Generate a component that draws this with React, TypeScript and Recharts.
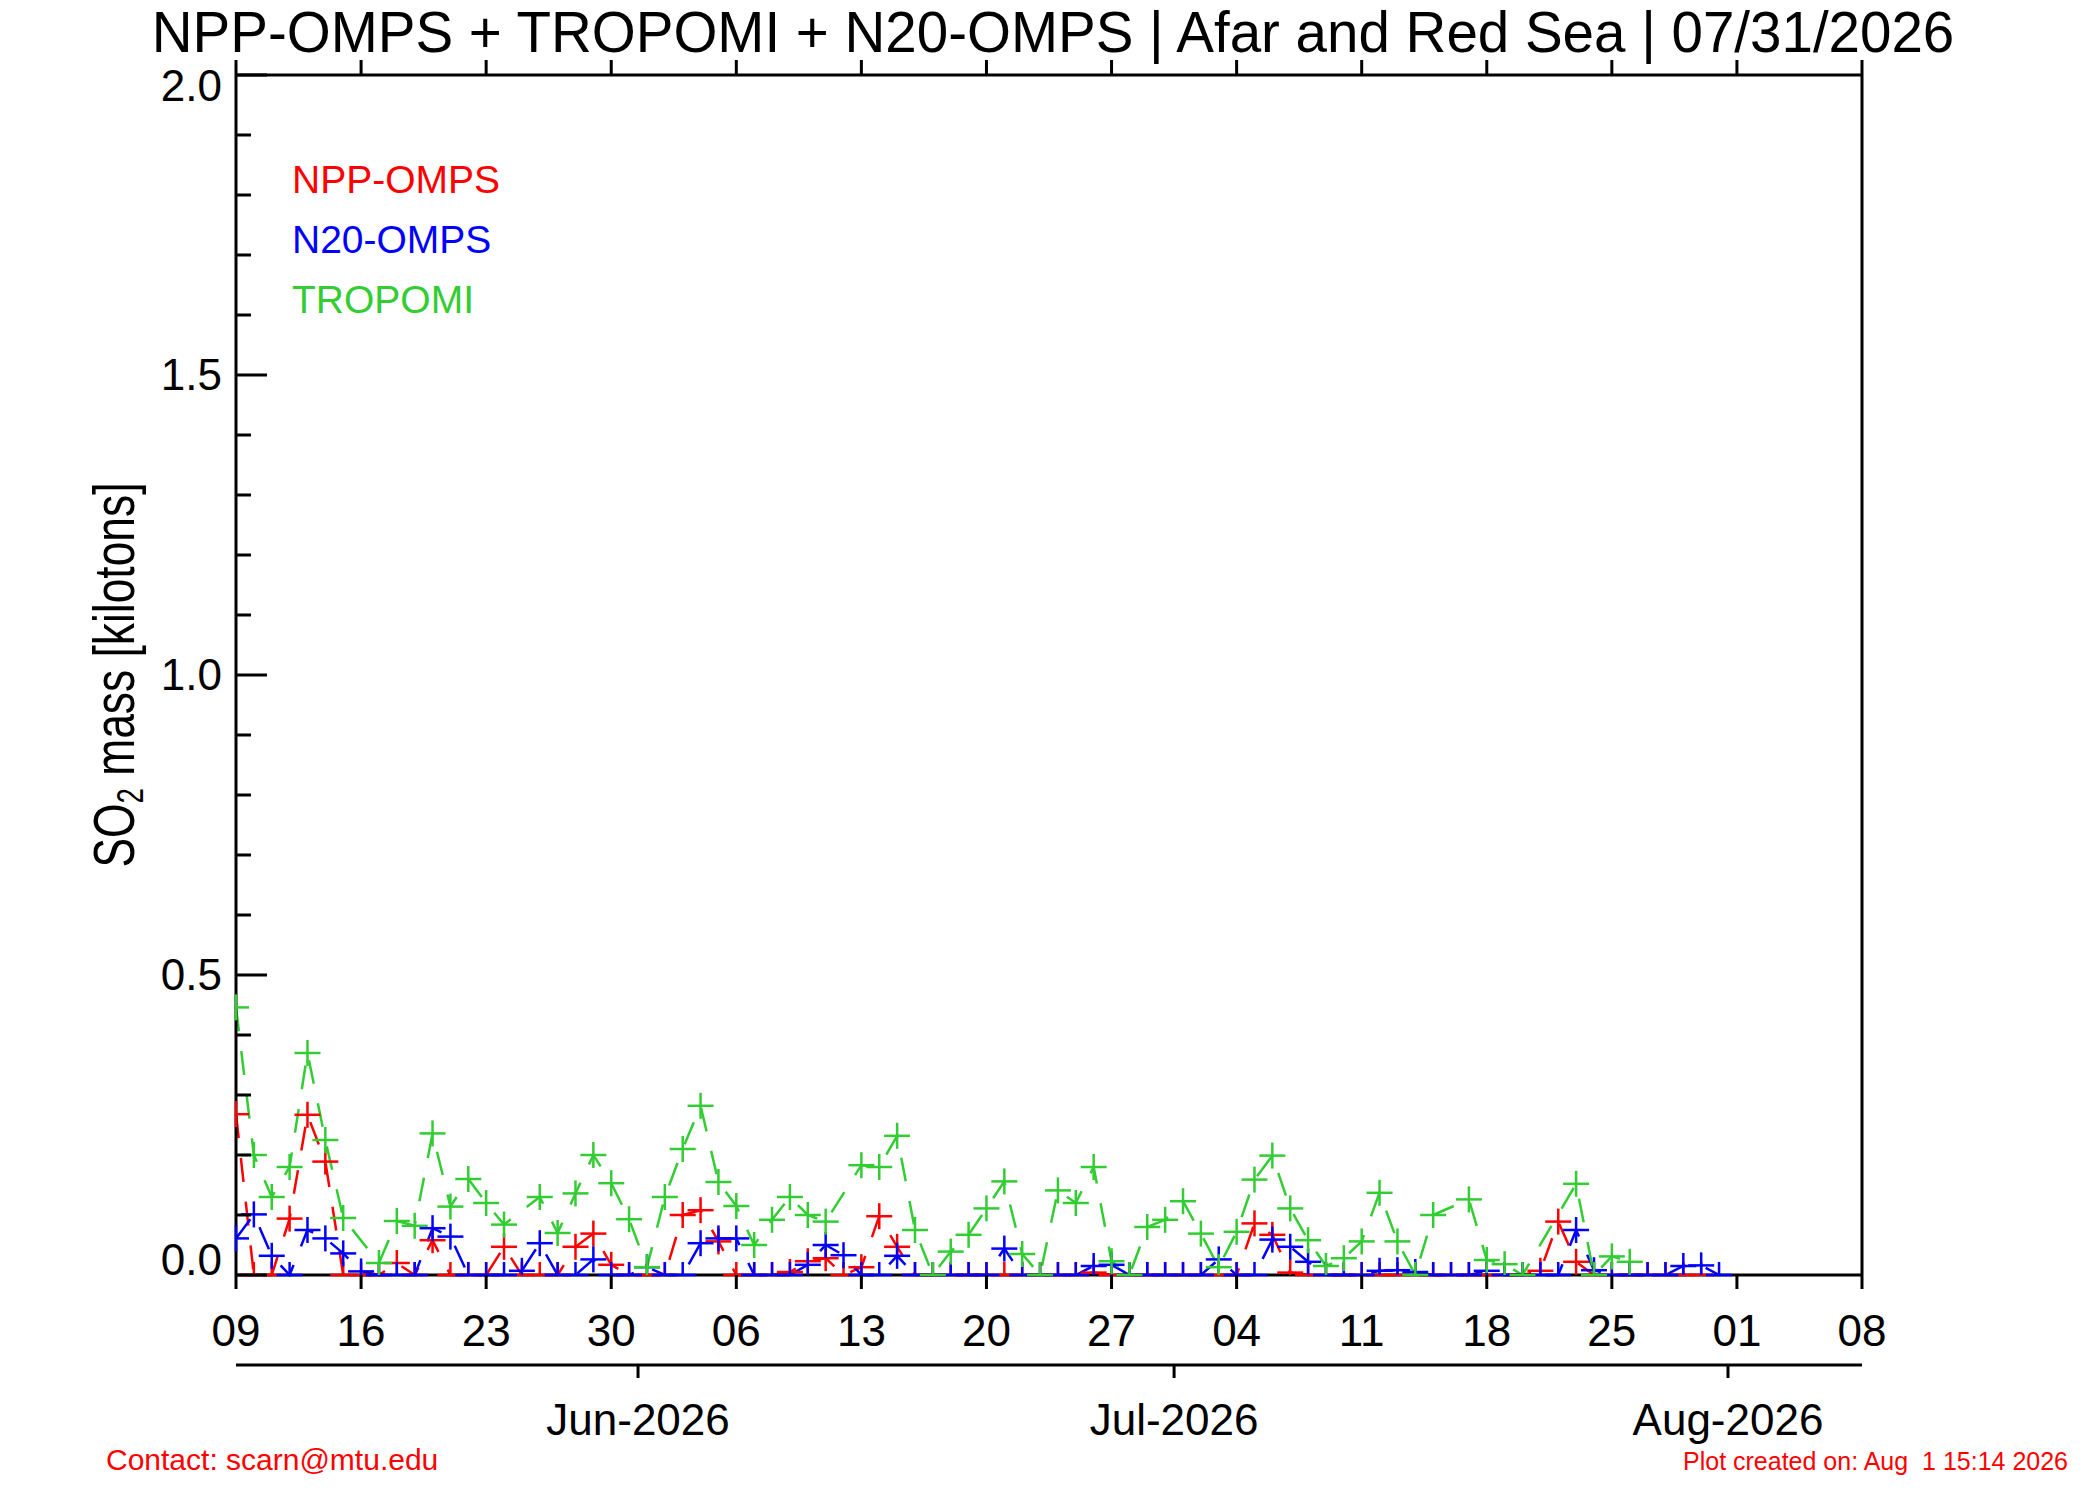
import React from 'react';
import { LineChart, Line, XAxis, YAxis, Legend } from 'recharts';

// days counted from 09 May 2026 (day 0); null = no retrieval that day
const nppOmps = [
  0.268, 0, 0, 0.094, 0.267, 0.189, 0, 0, 0, 0.02, 0, 0.058, 0, 0, 0,
  0.047, 0, 0, 0, 0.047, 0.069, 0.017, 0, 0, 0, 0.1, 0.108, 0.056, 0, 0,
  0, 0.005, 0.023, 0.028, 0, 0.013, 0.098, 0.047, 0, 0, 0, 0, 0, 0, 0,
  0, 0, 0, 0.004, 0, 0, 0, 0, 0, 0, 0, 0, 0.086, 0.067, 0.004, 0, 0,
  0, 0, 0, 0, 0, 0, 0, 0, 0, 0, 0, 0.007, 0.089, 0.022, 0, 0, 0,
  0, 0, 0, 0,
];
const n20Omps = [
  0.061, 0.101, 0.032, 0, 0.075, 0.061, 0.036, 0.006, 0, 0, 0, 0.078, 0.064, 0, 0,
  0, 0.007, 0.053, 0, 0, 0.026, 0, 0, 0.013, 0, 0, 0.053, 0.061, 0.061, 0,
  0, 0, 0.017, 0.05, 0.033, 0, 0, 0.032, 0, 0, 0, 0, 0, 0.044, 0,
  0, 0, 0, 0.015, 0.017, 0, 0, 0, 0, 0, 0.026, 0, 0, 0.059, 0.047, 0.022,
  0, 0, 0, 0.007, 0.008, 0.005, 0, 0, 0, 0.007, 0, 0, 0, 0, 0.075,
  0.008, 0, 0, 0, 0, 0.015, 0.016, 0,
];
const tropomi = [
  0.446, 0.2, 0.13, 0.18, 0.37, 0.225, 0.095, null, 0.02, 0.09, 0.082, 0.236, 0.114, 0.16, 0.12,
  0.084, null, 0.13, 0.07, 0.136, 0.2, 0.153, 0.093, 0.013, 0.13, 0.21, 0.282, 0.155, 0.115, 0.05,
  0.092, 0.13, 0.1, 0.089, null, 0.183, 0.18, 0.232, 0.075, 0, 0.039, 0.067, 0.111, 0.156, 0.035,
  0, 0.141, 0.12, 0.18, 0.023, 0, 0.08, 0.092, 0.123, 0.069, 0.013, 0.072, 0.159, 0.199, 0.111,
  0.058, 0.015, 0.028, 0.056, 0.137, 0.056, 0, 0.1, null, 0.126, 0.025, 0.018, 0, null, null,
  0.152, 0, 0.031, 0.022,
];

const xTicks = [0, 7, 14, 21, 28, 35, 42, 49, 56, 63, 70, 77, 84, 91];
const xTickLabels = ['09', '16', '23', '30', '06', '13', '20', '27', '04', '11', '18', '25', '01', '08'];
const monthTicks = [22.5, 52.5, 83.5];
const monthLabels = ['Jun-2026', 'Jul-2026', 'Aug-2026'];
const yTicks = [0, 0.1, 0.2, 0.3, 0.4, 0.5, 0.6, 0.7, 0.8, 0.9, 1, 1.1, 1.2, 1.3, 1.4, 1.5, 1.6, 1.7, 1.8, 1.9, 2];
const yMajor = [0, 0.5, 1, 1.5, 2];
const yMajorLabels = ['0.0', '0.5', '1.0', '1.5', '2.0'];
const legendOrder = ['NPP-OMPS', 'N20-OMPS', 'TROPOMI'];

const nDays = Math.max(nppOmps.length, n20Omps.length, tropomi.length);
const data = Array.from({ length: nDays }, (_, i) => ({
  day: i,
  npp: nppOmps[i] ?? null,
  n20: n20Omps[i] ?? null,
  tropomi: tropomi[i] ?? null,
}));

const FONT = '"Liberation Sans", Arial, Helvetica, sans-serif';
const PLOT_LEFT = 236;
const PLOT_BOTTOM = 1275;

const DateTick = (props: any) => {
  const { x, y, payload } = props;
  const i = xTicks.indexOf(payload.value);
  return (
    <g>
      <line x1={x} y1={y} x2={x} y2={y + 14} stroke="#000" strokeWidth={3} />
      <text x={x} y={y + 71} textAnchor="middle" fontSize={44} fontFamily={FONT} fill="#000">
        {xTickLabels[i]}
      </text>
    </g>
  );
};

const TopTick = (props: any) => {
  const { x, y } = props;
  return <line x1={x} y1={y} x2={x} y2={y - 15} stroke="#000" strokeWidth={3} />;
};

const MonthTick = (props: any) => {
  const { x, y, payload } = props;
  const i = monthTicks.indexOf(payload.value);
  return (
    <g>
      <line x1={x} y1={y} x2={x} y2={y + 13} stroke="#000" strokeWidth={3} />
      <text x={x} y={y + 70} textAnchor="middle" fontSize={44} fontFamily={FONT} fill="#000">
        {monthLabels[i]}
      </text>
    </g>
  );
};

const LeftTick = (props: any) => {
  const { x, y, payload } = props;
  const mi = yMajor.findIndex((v) => Math.abs(v - payload.value) < 1e-6);
  const len = mi >= 0 ? 31 : 15;
  const dy = mi === 0 ? 0 : mi === 4 ? 26 : 15;
  return (
    <g>
      <line x1={x} y1={y} x2={x + len} y2={y} stroke="#000" strokeWidth={3} />
      {mi >= 0 && (
        <text x={x - 14} y={y + dy} textAnchor="end" fontSize={44} fontFamily={FONT} fill="#000">
          {yMajorLabels[mi]}
        </text>
      )}
    </g>
  );
};

const RightTick = (props: any) => {
  const { x, y, payload } = props;
  const major = yMajor.some((v) => Math.abs(v - payload.value) < 1e-6);
  return <line x1={x} y1={y} x2={x - (major ? 31 : 15)} y2={y} stroke="#000" strokeWidth={3} />;
};

// IDL-style "+" symbol, cut at the plot frame
const renderPlus = (props: any) => {
  const { cx, cy, stroke, index } = props;
  if (cx == null || cy == null || Number.isNaN(cy)) return <g key={`dot-${index}`} />;
  const h = 13;
  return (
    <g key={`dot-${index}`}>
      <line x1={Math.max(cx - h, PLOT_LEFT)} y1={cy} x2={cx + h} y2={cy} stroke={stroke} strokeWidth={2.5} />
      <line x1={cx} y1={cy - h} x2={cx} y2={Math.min(cy + h, PLOT_BOTTOM)} stroke={stroke} strokeWidth={2.5} />
    </g>
  );
};

const LegendContent = ({ payload }: any) => {
  const items = [...(payload || [])].sort(
    (a: any, b: any) => legendOrder.indexOf(a.value) - legendOrder.indexOf(b.value)
  );
  return (
    <div style={{ fontFamily: FONT, fontSize: 39, lineHeight: '60px' }}>
      {items.map((entry: any) => (
        <div key={entry.value} style={{ color: entry.color }}>
          {entry.value}
        </div>
      ))}
    </div>
  );
};

export default function App() {
  return (
    <div style={{ position: 'absolute', left: 0, top: 0, width: 2100, height: 1500, background: '#fff', fontFamily: FONT }}>
      <LineChart width={2100} height={1500} data={data} margin={{ top: 45, right: 198, bottom: 35, left: 136 }}>
        <XAxis
          xAxisId="date"
          dataKey="day"
          type="number"
          domain={[0, 91]}
          ticks={xTicks}
          interval={0}
          height={90}
          tickSize={0}
          tickMargin={0}
          tickLine={false}
          tick={<DateTick />}
          axisLine={{ stroke: '#000', strokeWidth: 3 }}
        />
        <XAxis
          xAxisId="month"
          dataKey="day"
          type="number"
          domain={[0, 91]}
          ticks={monthTicks}
          interval={0}
          height={100}
          tickSize={0}
          tickMargin={0}
          tickLine={false}
          tick={<MonthTick />}
          axisLine={{ stroke: '#000', strokeWidth: 3 }}
        />
        <XAxis
          xAxisId="top"
          orientation="top"
          dataKey="day"
          type="number"
          domain={[0, 91]}
          ticks={xTicks}
          interval={0}
          height={30}
          tickSize={0}
          tickMargin={0}
          tickLine={false}
          tick={<TopTick />}
          axisLine={{ stroke: '#000', strokeWidth: 3 }}
        />
        <YAxis
          yAxisId="left"
          type="number"
          domain={[0, 2]}
          ticks={yTicks}
          interval={0}
          width={100}
          tickSize={0}
          tickMargin={0}
          tickLine={false}
          tick={<LeftTick />}
          axisLine={{ stroke: '#000', strokeWidth: 3 }}
        />
        <YAxis
          yAxisId="right"
          orientation="right"
          type="number"
          domain={[0, 2]}
          ticks={yTicks}
          interval={0}
          width={40}
          tickSize={0}
          tickMargin={0}
          tickLine={false}
          tick={<RightTick />}
          axisLine={{ stroke: '#000', strokeWidth: 3 }}
        />
        <Legend
          layout="vertical"
          align="center"
          verticalAlign="middle"
          wrapperStyle={{ left: 292, top: 150, width: 'auto' }}
          content={<LegendContent />}
        />
        <Line
          xAxisId="date"
          yAxisId="left"
          dataKey="npp"
          name="NPP-OMPS"
          stroke="#ff0000"
          strokeWidth={2.5}
          strokeDasharray="24 20"
          dot={renderPlus}
          activeDot={false}
          connectNulls
          isAnimationActive={false}
        />
        <Line
          xAxisId="date"
          yAxisId="left"
          dataKey="n20"
          name="N20-OMPS"
          stroke="#0000ff"
          strokeWidth={2.5}
          strokeDasharray="24 20"
          dot={renderPlus}
          activeDot={false}
          connectNulls
          isAnimationActive={false}
        />
        <Line
          xAxisId="date"
          yAxisId="left"
          dataKey="tropomi"
          name="TROPOMI"
          stroke="#32cd32"
          strokeWidth={2.5}
          strokeDasharray="24 20"
          dot={renderPlus}
          activeDot={false}
          connectNulls
          isAnimationActive={false}
        />
      </LineChart>
      <svg width={2100} height={1500} style={{ position: 'absolute', left: 0, top: 0, pointerEvents: 'none' }}>
        <text x={1053} y={52} textAnchor="middle" fontSize={56.5} fontFamily={FONT} fill="#000">
          NPP-OMPS + TROPOMI + N20-OMPS | Afar and Red Sea | 07/31/2026
        </text>
        <text
          transform="translate(134,675) rotate(-90)"
          textAnchor="middle"
          fontSize={58}
          fontFamily={FONT}
          fill="#000"
          textLength={385}
          lengthAdjust="spacingAndGlyphs"
        >
          SO<tspan fontSize={36} dy={9}>2</tspan>
          <tspan dy={-9}> mass [kilotons]</tspan>
        </text>
        <text x={106} y={1470} fontSize={30} fontFamily={FONT} fill="#ff0000">
          Contact: scarn@mtu.edu
        </text>
        <text x={1683} y={1470} fontSize={25} fontFamily={FONT} fill="#ff0000" style={{ whiteSpace: 'pre' }}>
          {'Plot created on: Aug  1 15:14 2026'}
        </text>
      </svg>
    </div>
  );
}
